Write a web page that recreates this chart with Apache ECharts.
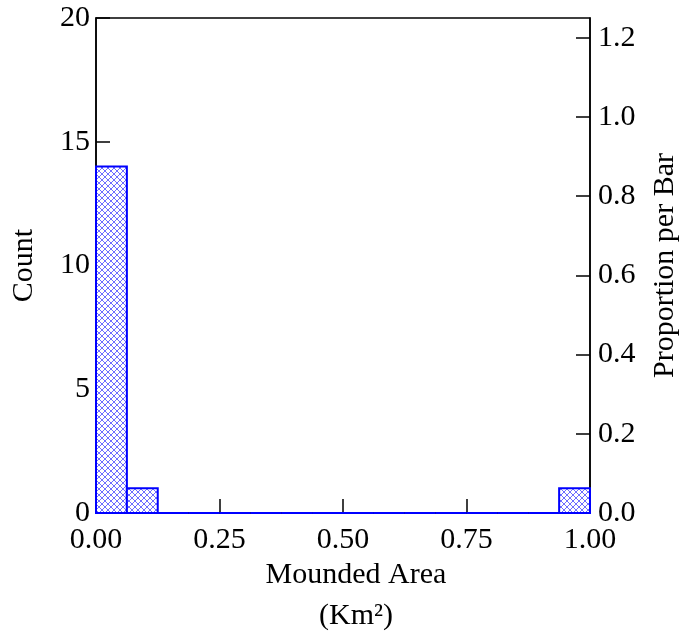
<!DOCTYPE html>
<html>
<head>
<meta charset="utf-8">
<script src="https://cdn.jsdelivr.net/npm/echarts@6/dist/echarts.min.js"></script>
<style>html,body{margin:0;padding:0;background:#fff;}#c{width:688px;height:637px;}</style>
</head>
<body>
<div id="c"></div>
<script>
// Histogram bins (Mounded Area, Km²)
const binStarts = [0.0000, 0.0625, 0.1250, 0.1875, 0.2500, 0.3125, 0.3750, 0.4375, 0.5000, 0.5625, 0.6250, 0.6875, 0.7500, 0.8125, 0.8750, 0.9375];
const binEnds   = [0.0625, 0.1250, 0.1875, 0.2500, 0.3125, 0.3750, 0.4375, 0.5000, 0.5625, 0.6250, 0.6875, 0.7500, 0.8125, 0.8750, 0.9375, 1.0000];
const counts    = [14, 1, 0, 0, 0, 0, 0, 0, 0, 0, 0, 0, 0, 0, 0, 1];
const xTicks = [0, 0.25, 0.5, 0.75, 1.0];
const countMax = 20;
const total = counts.reduce((a, b) => a + b, 0);
const xTitleLines = ['Mounded Area', '(Km²)'];

const FONT = 'Liberation Serif';

function makePattern() {
  const c = document.createElement('canvas');
  c.width = 6; c.height = 6;
  const g = c.getContext('2d');
  g.fillStyle = '#ffffff';
  g.fillRect(0, 0, 6, 6);
  g.strokeStyle = 'rgb(110,110,255)';
  g.lineWidth = 1;
  g.beginPath();
  g.moveTo(0, 0); g.lineTo(6, 6);
  g.moveTo(6, 0); g.lineTo(0, 6);
  g.stroke();
  return c;
}
const pattern = makePattern();

const data = binStarts.map((s, i) => [s, binEnds[i], counts[i]]);

const chart = echarts.init(document.getElementById('c'), null, {renderer: 'canvas'});
chart.setOption({
  animation: false,
  backgroundColor: '#ffffff',
  grid: {left: 96, right: 95, top: 18, bottom: 124, show: true, borderColor: '#000', borderWidth: 1.5, backgroundColor: 'transparent'},
  xAxis: {
    type: 'value', min: 0, max: 1, interval: 0.25,
    axisLine: {show: true, lineStyle: {color: '#000', width: 1.5}},
    axisTick: {show: true, inside: true, length: 14, lineStyle: {color: '#000', width: 1.5}},
    axisLabel: {color: '#000', fontFamily: FONT, fontSize: 30, margin: 12, formatter: v => v.toFixed(2)},
    splitLine: {show: false}
  },
  yAxis: [{
    type: 'value', min: 0, max: countMax, interval: 5, position: 'left',
    name: 'Count', nameLocation: 'middle', nameGap: 57, nameRotate: 90,
    nameTextStyle: {color: '#000', fontFamily: FONT, fontSize: 30},
    axisLine: {show: true, lineStyle: {color: '#000', width: 1.5}},
    axisTick: {show: true, inside: true, length: 14, lineStyle: {color: '#000', width: 1.5}},
    axisLabel: {color: '#000', fontFamily: FONT, fontSize: 30, margin: 6},
    splitLine: {show: false}
  }, {
    type: 'value', min: 0, max: countMax / total, interval: 0.2, position: 'right',
    name: 'Proportion per Bar', nameLocation: 'middle', nameGap: 60, nameRotate: 90,
    nameTextStyle: {color: '#000', fontFamily: FONT, fontSize: 30},
    axisLine: {show: true, lineStyle: {color: '#000', width: 1.5}},
    axisTick: {show: true, inside: true, length: 14, lineStyle: {color: '#000', width: 1.5}},
    axisLabel: {color: '#000', fontFamily: FONT, fontSize: 30, margin: 8, showMaxLabel: false, formatter: v => v.toFixed(1)},
    splitLine: {show: false}
  }],
  graphic: [{
    type: 'text', x: 356, y: 575,
    style: {text: xTitleLines[0], align: 'center', verticalAlign: 'middle', fill: '#000', font: '30px "Liberation Serif"'}
  }, {
    type: 'text', x: 356, y: 616,
    style: {text: xTitleLines[1], align: 'center', verticalAlign: 'middle', fill: '#000', font: '30px "Liberation Serif"'}
  }],
  series: [{
    type: 'custom',
    xAxisIndex: 0, yAxisIndex: 0,
    data: data,
    encode: {x: [0, 1], y: 2},
    renderItem: function (params, api) {
      const p0 = api.coord([api.value(0), 0]);
      const p1 = api.coord([api.value(1), api.value(2)]);
      return {
        type: 'rect',
        shape: {x: p0[0], y: p1[1], width: p1[0] - p0[0], height: p0[1] - p1[1]},
        style: {fill: {image: pattern, repeat: 'repeat'}, stroke: '#0000ff', lineWidth: 2}
      };
    }
  }]
});
</script>
</body>
</html>
